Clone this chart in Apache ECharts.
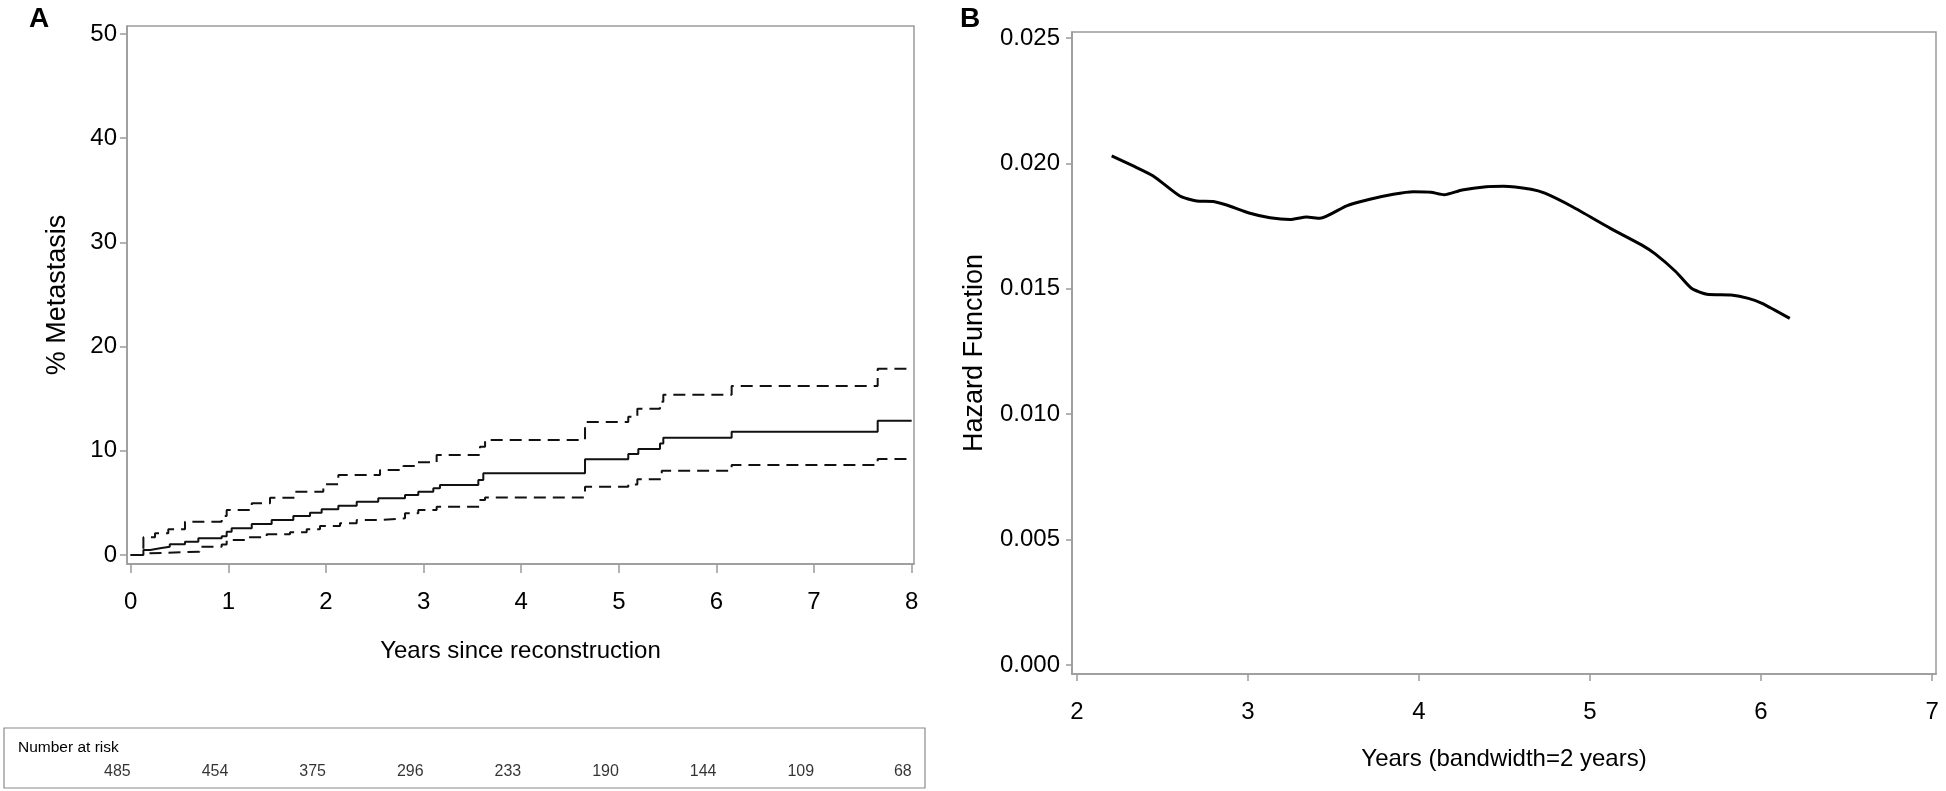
<!DOCTYPE html>
<html>
<head>
<meta charset="utf-8">
<script src="https://cdn.jsdelivr.net/npm/echarts@6/dist/echarts.min.js"></script>
<style>
html,body{margin:0;padding:0;background:#fff;}
#main{width:1946px;height:791px;}
</style>
</head>
<body>
<div id="main"></div>
<script>
// ---------- Panel A: cumulative % metastasis (step functions) ----------
const solidTimes = [0, 0.13, 0.2, 0.3, 0.4, 0.556, 0.693, 0.932, 0.983, 1.034, 1.24, 1.444, 1.666, 1.837, 1.956, 2.127, 2.315, 2.536, 2.81, 2.946, 3.1, 3.168, 3.561, 3.612, 4.654, 5.097, 5.2, 5.422, 5.456, 6.156, 7.652, 8.0];
const solidValues = [0, 0.48, 0.64, 0.8, 1.02, 1.28, 1.6, 1.8, 2.24, 2.56, 2.97, 3.36, 3.74, 4.06, 4.38, 4.73, 5.12, 5.44, 5.76, 6.08, 6.4, 6.72, 7.2, 7.84, 9.18, 9.69, 10.17, 10.7, 11.26, 11.84, 12.89, 12.89];

const upperTimes = [0, 0.13, 0.249, 0.385, 0.556, 0.932, 0.983, 1.24, 1.427, 1.683, 1.973, 2.127, 2.554, 2.793, 2.93, 3.134, 3.578, 3.63, 4.654, 5.097, 5.19, 5.422, 5.456, 6.156, 7.652, 8.0];
const upperValues = [0, 1.7, 2.08, 2.46, 3.2, 3.74, 4.32, 4.96, 5.5, 6.08, 6.78, 7.68, 8.16, 8.54, 8.9, 9.6, 10.4, 11.04, 12.76, 13.27, 14.04, 14.7, 15.39, 16.22, 17.88, 17.88];

const lowerTimes = [0, 0.13, 0.198, 0.704, 0.932, 0.983, 1.205, 1.393, 1.632, 1.803, 1.939, 2.144, 2.315, 2.536, 2.81, 2.946, 3.134, 3.578, 3.63, 4.654, 5.097, 5.19, 5.44, 6.156, 7.652, 8.0];
const lowerValues = [0, 0.16, 0.32, 0.8, 1.0, 1.44, 1.7, 1.98, 2.18, 2.46, 2.78, 3.05, 3.36, 3.52, 4.0, 4.32, 4.64, 5.28, 5.53, 6.56, 6.77, 7.26, 8.09, 8.64, 9.21, 9.21];

const xTicksA = [0, 1, 2, 3, 4, 5, 6, 7, 8];
const yTicksA = [0, 10, 20, 30, 40, 50];

// Number at risk
const riskTimes = [0, 1, 2, 3, 4, 5, 6, 7, 8];
const riskCounts = [485, 454, 375, 296, 233, 190, 144, 109, 68];

// ---------- Panel B: hazard function ----------
const hazardTimes = [2.203, 2.329, 2.446, 2.602, 2.700, 2.797, 2.875, 3.012, 3.129, 3.246, 3.343, 3.421, 3.577, 3.713, 3.850, 3.967, 4.070, 4.147, 4.252, 4.393, 4.494, 4.655, 4.736, 4.897, 5.119, 5.301, 5.381, 5.502, 5.593, 5.684, 5.825, 5.926, 6.006, 6.168];
const hazardValues = [0.02030, 0.01990, 0.01950, 0.01870, 0.01850, 0.01848, 0.01834, 0.01801, 0.01783, 0.01776, 0.01786, 0.01781, 0.01831, 0.01857, 0.01877, 0.01887, 0.01885, 0.01875, 0.01894, 0.01907, 0.01909, 0.01897, 0.01881, 0.01827, 0.01741, 0.01675, 0.01639, 0.01568, 0.01502, 0.01478, 0.01475, 0.01462, 0.01442, 0.01382];

const xTicksB = [2, 3, 4, 5, 6, 7];
const yTicksB = [0, 0.005, 0.010, 0.015, 0.020, 0.025];

// ---------- styling ----------
const FONT = '"Liberation Sans", Arial, sans-serif';
const AXC = '#9a9a9a';

const pairs = (xs, ys) => xs.map((x, i) => [x, ys[i]]);

function axisCommon(ticks, tickLen, margin, fontSize, fmt) {
  return {
    type: 'value',
    splitLine: {show: false},
    axisLine: {show: true, onZero: false, lineStyle: {color: AXC, width: 1.5}},
    axisTick: {show: true, length: tickLen, customValues: ticks, lineStyle: {color: AXC, width: 1.5}},
    axisLabel: {show: true, customValues: ticks, margin: margin, color: '#000', fontSize: fontSize, fontFamily: FONT, formatter: fmt},
    nameTextStyle: {color: '#000', fontSize: 24, fontFamily: FONT}
  };
}

const chart = echarts.init(document.getElementById('main'), null, {renderer: 'canvas'});

const option = {
  animation: false,
  backgroundColor: '#fff',
  title: [
    {text: 'A', left: 24, top: 0, textStyle: {fontSize: 28, fontWeight: 'bold', color: '#000', fontFamily: FONT}},
    {text: 'B', left: 955, top: 0, textStyle: {fontSize: 28, fontWeight: 'bold', color: '#000', fontFamily: FONT}},
    {text: 'Number at risk', left: 13, top: 735, textStyle: {fontSize: 15.5, fontWeight: 'normal', color: '#000', fontFamily: FONT}}
  ],
  grid: [
    {left: 127, top: 26, width: 787, height: 538, show: true, borderColor: AXC, borderWidth: 1.5, containLabel: false},
    {left: 1072, top: 32, width: 864, height: 642, show: true, borderColor: AXC, borderWidth: 1.5, containLabel: false},
    {left: 4, top: 728, width: 921, height: 60, show: true, borderColor: '#8a8a8a', borderWidth: 1.2, containLabel: false}
  ],
  xAxis: [
    Object.assign(axisCommon(xTicksA, 9, 26, 24), {
      gridIndex: 0, min: -0.038, max: 8.024,
      name: 'Years since reconstruction', nameLocation: 'middle', nameGap: 75
    }),
    Object.assign(axisCommon(xTicksB, 7, 26, 24), {
      gridIndex: 1, min: 1.971, max: 7.023,
      name: 'Years (bandwidth=2 years)', nameLocation: 'middle', nameGap: 73
    }),
    {type: 'value', gridIndex: 2, min: -1.298, max: 8.136, show: false}
  ],
  yAxis: [
    Object.assign(axisCommon(yTicksA, 7, 10, 24), {
      gridIndex: 0, min: -0.864, max: 50.77,
      name: '% Metastasis', nameLocation: 'middle', nameGap: 56,
      nameTextStyle: {color: '#000', fontSize: 27, fontFamily: FONT}
    }),
    Object.assign(axisCommon(yTicksB, 6, 12, 24, v => v.toFixed(3)), {
      gridIndex: 1, min: -0.000359, max: 0.025239,
      name: 'Hazard Function', nameLocation: 'middle', nameGap: 84,
      nameTextStyle: {color: '#000', fontSize: 27, fontFamily: FONT}
    }),
    {type: 'value', gridIndex: 2, min: 0, max: 1, show: false}
  ],
  series: [
    {
      type: 'line', xAxisIndex: 0, yAxisIndex: 0, step: 'end', symbol: 'none',
      data: pairs(upperTimes, upperValues),
      lineStyle: {color: '#111', width: 2, type: [12, 7]}
    },
    {
      type: 'line', xAxisIndex: 0, yAxisIndex: 0, step: 'end', symbol: 'none',
      data: pairs(lowerTimes, lowerValues),
      lineStyle: {color: '#111', width: 2, type: [12, 7]}
    },
    {
      type: 'line', xAxisIndex: 0, yAxisIndex: 0, step: 'end', symbol: 'none',
      data: pairs(solidTimes, solidValues),
      lineStyle: {color: '#111', width: 2}
    },
    {
      type: 'line', xAxisIndex: 1, yAxisIndex: 1, symbol: 'none', smooth: 0.2,
      data: pairs(hazardTimes, hazardValues),
      lineStyle: {color: '#000', width: 3}
    },
    {
      type: 'scatter', xAxisIndex: 2, yAxisIndex: 2, symbolSize: 0, silent: true,
      data: riskTimes.map((t, i) => ({value: [t, 0.27], name: String(riskCounts[i])})),
      label: {show: true, position: 'left', distance: 0, formatter: p => p.name, color: '#000', fontSize: 16, fontFamily: FONT}
    }
  ]
};
chart.setOption(option);
</script>
</body>
</html>
